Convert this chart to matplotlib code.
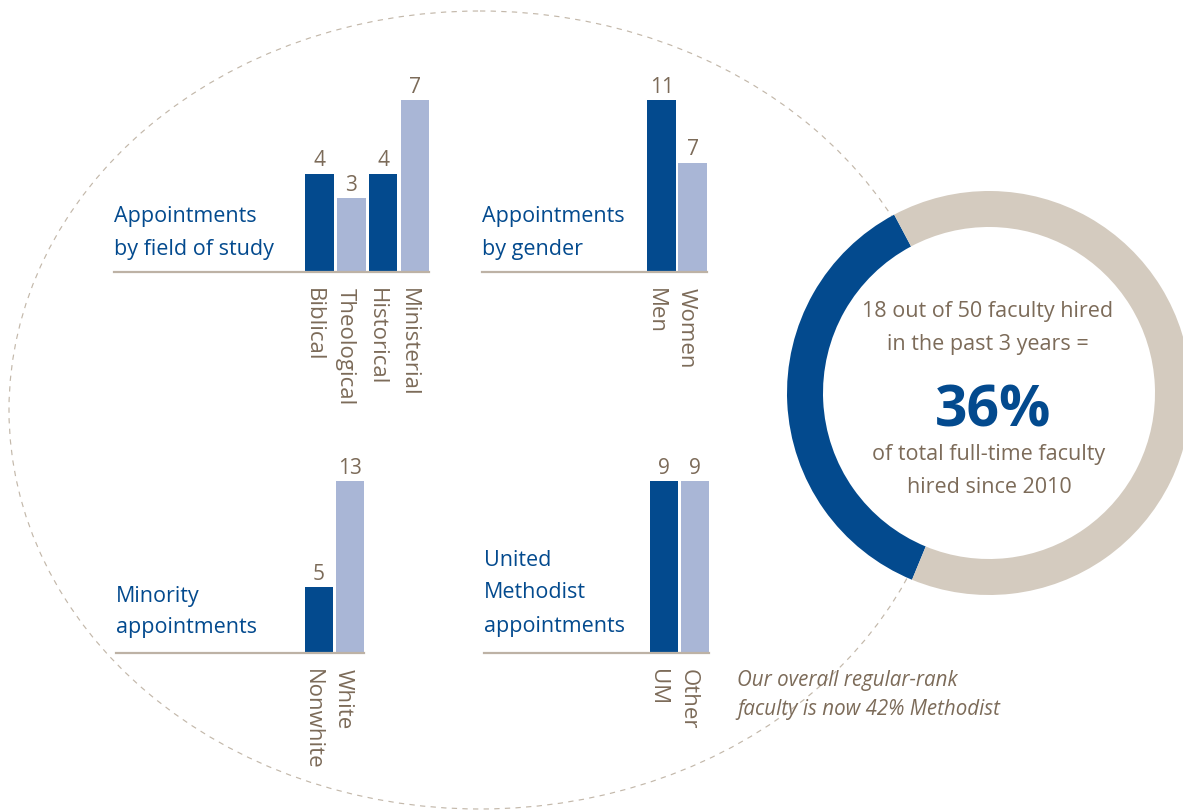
import matplotlib
matplotlib.use('Agg')
import matplotlib.pyplot as plt
from matplotlib.patches import Ellipse, Circle

# ---------------- data ----------------
field_categories = ['Biblical', 'Theological', 'Historical', 'Ministerial']
field_values = [4, 3, 4, 7]
gender_categories = ['Men', 'Women']
gender_values = [11, 7]
minority_categories = ['Nonwhite', 'White']
minority_values = [5, 13]
um_categories = ['UM', 'Other']
um_values = [9, 9]

field_title = ['Appointments', 'by field of study']
gender_title = ['Appointments', 'by gender']
minority_title = ['Minority', 'appointments']
um_title = ['United', 'Methodist', 'appointments']

hired_recent = 18
total_faculty = 50
donut_lines_top = ['18 out of 50 faculty hired', 'in the past 3 years =']
donut_big = '36%'
donut_lines_bottom = ['of total full-time faculty', 'hired since 2010']
note_lines = ['Our overall regular-rank', 'faculty is now 42% Methodist']

# ---------------- style ----------------
W, H = 1183, 812
plt.rcParams['font.family'] = ['Open Sans', 'DejaVu Sans']
BLUE = '#034a8e'
LIGHT = '#a9b6d6'
RING = '#d4cbbf'
BROWN = '#7c6b59'
BASE = '#bdb2a5'
DASH = '#c3b8aa'

fig = plt.figure(figsize=(W / 100, H / 100), dpi=100)
fig.patch.set_facecolor('white')


def px_axes(left, top, width, height, **kw):
    return fig.add_axes([left / W, 1 - (top + height) / H, width / W, height / H], **kw)


def pixel_layer(z):
    a = px_axes(0, 0, W, H)
    a.set_xlim(0, W)
    a.set_ylim(H, 0)
    a.axis('off')
    a.patch.set_visible(False)
    a.set_zorder(z)
    return a


# bottom layer: dashed ellipse; top layer: free text
under = pixel_layer(0)
bg = pixel_layer(5)
under.add_patch(Ellipse((480, 411), 942, 798, fill=False, edgecolor=DASH,
                        linewidth=0.85, linestyle=(0, (4.5, 4.5))))

# ---------------- bar charts ----------------
BAR_W_PX = 28.5
AX_H = 200
MAX_PX = 172


def bar_chart(cats, vals, colors, left, right, baseline, pitch, title, tx, tbaselines):
    ax = px_axes(left, baseline - AX_H, right - left, AX_H)
    ax.set_zorder(2)
    ax.patch.set_visible(False)
    n = len(vals)
    bw = BAR_W_PX / pitch
    xr = n - 1 + bw / 2
    xl = xr - (right - left) / pitch
    ax.set_xlim(xl, xr)
    ax.set_ylim(0, max(vals) * AX_H / MAX_PX)
    ax.bar(range(n), vals, width=bw, color=colors, linewidth=0, zorder=2)
    ax.axhline(0, color=BASE, linewidth=1.6, clip_on=False, zorder=3)
    ax.axis('off')
    for i, (c, v) in enumerate(zip(cats, vals)):
        ax.annotate(str(v), (i, v), xytext=(0, 6), textcoords='offset points',
                    ha='center', va='baseline', fontsize=15, color=BROWN)
        ax.annotate(c, (i, 0), xytext=(-4.5, -10.5), textcoords='offset points',
                    ha='center', va='top', rotation=-90, fontsize=16, color=BROWN,
                    annotation_clip=False)
    for line, yb in zip(title, tbaselines):
        bg.text(tx, yb, line, ha='left', va='baseline', fontsize=15.5, color=BLUE)


bar_chart(field_categories, field_values, [BLUE, LIGHT, BLUE, LIGHT],
          114, 429, 273, 31.7, field_title, 114, [222, 255])
bar_chart(gender_categories, gender_values, [BLUE, LIGHT],
          482, 707, 273, 31.0, gender_title, 482, [222, 255])
bar_chart(minority_categories, minority_values, [BLUE, LIGHT],
          116, 364, 654, 31.0, minority_title, 116, [602, 633])
bar_chart(um_categories, um_values, [BLUE, LIGHT],
          484, 709, 654, 31.0, um_title, 484, [566, 598, 632])

# ---------------- donut ----------------
CX, CY, R, RW = 989, 394, 202, 36
dax = px_axes(CX - R, CY - R, 2 * R, 2 * R)
dax.set_zorder(1)
dax.patch.set_visible(False)
dax.add_patch(Circle((0, 0), 1.0, facecolor='white', edgecolor='none', zorder=0))
dax.pie([hired_recent, total_faculty - hired_recent], colors=[BLUE, RING],
        startangle=118, counterclock=True, radius=1,
        wedgeprops=dict(width=RW / R, linewidth=0))
dax.set_xlim(-1, 1)
dax.set_ylim(-1, 1)
dax.set_aspect('equal')
dax.axis('off')

for line, yb in zip(donut_lines_top, [317, 350]):
    bg.text(CX - 1, yb, line, ha='center', va='baseline', fontsize=15.5, color=BROWN)
bg.text(CX + 4, 427, donut_big, ha='center', va='baseline', fontsize=41,
        fontweight='bold', color=BLUE)
for line, yb in zip(donut_lines_bottom, [460, 493]):
    bg.text(CX, yb, line, ha='center', va='baseline', fontsize=15.5, color=BROWN)

# ---------------- note ----------------
for line, yb in zip(note_lines, [686, 715]):
    bg.text(737, yb, line, ha='left', va='baseline', fontsize=14.8,
            fontstyle='italic', color=BROWN)

fig.savefig('out.png', dpi=100)
